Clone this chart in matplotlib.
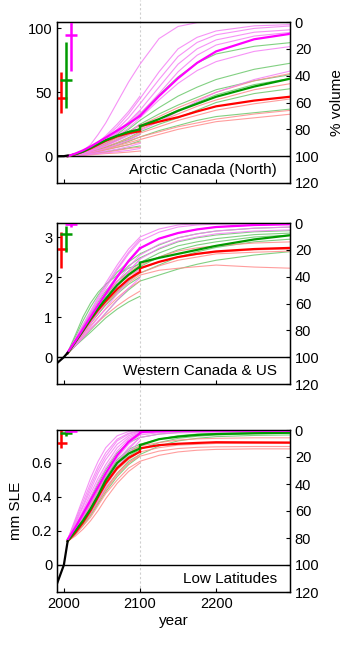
import numpy as np
import matplotlib
matplotlib.use("Agg")
import matplotlib.pyplot as plt
from matplotlib.lines import Line2D
import matplotlib.transforms as mtransforms

plt.rcParams['font.family'] = ['Liberation Sans', 'DejaVu Sans']

# ---------------- data ----------------
YR = [2005, 2015, 2025, 2035, 2045, 2055, 2070, 2085, 2100,
      2125, 2150, 2175, 2200, 2250, 2300]
REGIONS = ["Arctic Canada (North)", "Western Canada & US", "Low Latitudes"]
LEFT_TICKS = [[0, 50, 100], [0, 1, 2, 3], [0, 0.2, 0.4, 0.6]]
LEFT_TICKLABELS = [["0", "50", "100"], ["0", "1", "2", "3"], ["0", "0.2", "0.4", "0.6"]]
YTOP = [105, 3.35, 0.794]
RIGHT_TICKS = [0, 20, 40, 60, 80, 100, 120]
X_TICKS = [2000, 2100, 2200]

# historical (black)
HIST_YR = [1991, 2000, 2005]
HIST = [[0, 0, 0.5], [-0.15, 0, 0.11], [-0.11, 0, 0.14]]

# ensemble means: 21st century (YR[:9]) and extension (YR[8:])
P1_MAG_MEAN = [0, 2, 4.5, 7.5, 11, 14.5, 20, 25.5, 31.5]
P1_MAG_MEANX = [31.5, 47, 61, 73, 82, 91.5, 96]
P1_GRN_MEAN = [0, 1.5, 3.5, 6.5, 9.5, 12.5, 16, 19, 21]
P1_GRN_MEANX = [23.5, 29, 35.5, 41, 46.5, 54.5, 61]
P1_RED_MEAN = [0, 1.5, 3.5, 6, 9, 12, 15.5, 18, 19.5]
P1_RED_MEANX = [23.5, 27, 30.5, 35, 39, 43.5, 46.7]

P2_MAG_MEAN = [0.12, 0.4, 0.7, 1.0, 1.3, 1.58, 2.0, 2.4, 2.72]
P2_MAG_MEANX = [2.72, 2.96, 3.1, 3.19, 3.25, 3.3, 3.32]
P2_GRN_MEAN = [0.1, 0.38, 0.66, 0.95, 1.22, 1.46, 1.8, 2.06, 2.26]
P2_GRN_MEANX = [2.36, 2.48, 2.58, 2.68, 2.78, 2.94, 3.05]
P2_RED_MEAN = [0.1, 0.38, 0.65, 0.93, 1.18, 1.4, 1.7, 1.95, 2.13]
P2_RED_MEANX = [2.22, 2.38, 2.5, 2.58, 2.64, 2.7, 2.73]

P3_MAG_MEAN = [0.15, 0.22, 0.3, 0.38, 0.46, 0.54, 0.645, 0.725, 0.775]
P3_MAG_MEANX = [0.782, 0.787, 0.789, 0.79, 0.79, 0.79, 0.79]
P3_GRN_MEAN = [0.14, 0.2, 0.26, 0.33, 0.41, 0.5, 0.6, 0.655, 0.686]
P3_GRN_MEANX = [0.705, 0.74, 0.755, 0.765, 0.77, 0.775, 0.778]
P3_RED_MEAN = [0.14, 0.19, 0.25, 0.32, 0.4, 0.48, 0.57, 0.63, 0.667]
P3_RED_MEANX = [0.686, 0.705, 0.713, 0.718, 0.722, 0.721, 0.72]

# individual glacier-model runs (9 values: end 2100; 15 values: to 2300)
P1_MAG_RUNS = [
    [0, 1.5, 4, 9, 17, 26, 42, 58, 72, 92, 101.5, 104.5, 105, 105, 105],
    [0, 1.5, 3.5, 6.5, 10.5, 15, 23, 33, 45, 66, 84, 93, 98, 102, 103],
    [0, 1.5, 3.5, 6, 10, 14, 21, 30, 41, 60, 78, 89, 95, 100, 102],
    [0, 1.5, 3, 5.5, 9, 13, 19, 27, 36, 54, 72, 84, 91, 97, 99],
    [0, 1.5, 3, 5.5, 8.5, 12, 18, 25, 33, 49, 66, 79, 87, 94, 97],
    [0, 1, 2.5, 5, 8, 11, 16, 22, 30, 44, 57, 67, 74, 82, 86],
    [0, 1, 2, 4, 6, 8, 12, 16, 20, 27, 35, 43, 50, 60, 67],
    [0, 1.5, 3.5, 6.5, 11, 16, 25, 35, 47],
    [0, 1, 3, 5, 8, 12, 18, 26, 35],
    [0, 1, 2.5, 4, 6.5, 9, 13, 18, 25],
    [0, 1, 2, 3, 4.5, 6, 9, 12.5, 17],
    [0, 0.5, 1, 2, 3, 4, 5.5, 7.5, 10],
    [0, 0.5, 1, 1.5, 2, 2.5, 3.5, 4.5, 6],
]
P1_GRN_RUNS = [
    [0, 1, 2.5, 5, 8, 11.5, 17, 24, 33, 48, 62, 73, 80, 86, 89],
    [0, 1, 2.5, 4.5, 7, 10, 15, 21, 28, 38, 47, 54, 60, 68, 73],
    [0, 1, 2.5, 4.5, 6.5, 9, 13, 19, 25, 33, 40, 46, 52, 59, 64],
    [0, 1, 2, 4, 6, 8.5, 12.5, 17, 22, 29, 36, 42, 48, 56, 61],
    [0, 1, 2, 3.5, 5, 7, 10.5, 14.5, 19, 25, 30, 36, 42, 49, 53],
    [0, 0.5, 1.5, 3, 4.5, 6, 8.5, 11.5, 15, 20, 24, 28, 31, 34, 37],
    [0, 1, 2, 3.5, 5, 7, 10, 13, 17],
    [0, 0.5, 1.5, 2.5, 3.5, 5, 7, 9, 12],
    [0, 0.5, 1, 1.5, 2.5, 3.5, 5, 6.5, 8],
]
P1_RED_RUNS = [
    [0, 1, 2.5, 4.5, 7, 10, 14, 19, 24, 31, 38, 44, 50, 59, 65],
    [0, 1, 2.5, 4, 6, 9, 12.5, 17, 21, 27, 33, 39, 44, 52, 57],
    [0, 1, 2, 3.5, 5.5, 7.5, 10.5, 14, 18, 23, 28, 32, 36, 41, 45],
    [0, 0.5, 1.5, 3, 4.5, 6.5, 9, 12, 15, 19, 23, 26, 29, 33, 36],
    [0, 0.5, 1.5, 2.5, 4, 5.5, 8, 10.5, 13, 17, 21, 24, 27, 30, 33],
    [0, 0.5, 1.5, 2.5, 3.5, 5, 7, 9, 11],
    [0, 0.5, 1, 1.5, 2.5, 3, 4.5, 6, 7],
    [0, 0.3, 0.6, 1, 1.5, 2, 2.5, 3.2, 4],
]

P2_MAG_RUNS = [
    [0.12, 0.45, 0.8, 1.15, 1.5, 1.85, 2.3, 2.7, 3.0, 3.2, 3.3, 3.33, 3.34, 3.35, 3.35],
    [0.12, 0.42, 0.75, 1.08, 1.4, 1.72, 2.18, 2.58, 2.9, 3.12, 3.25, 3.3, 3.32, 3.34, 3.35],
    [0.1, 0.4, 0.7, 1.0, 1.3, 1.6, 2.02, 2.4, 2.72, 2.96, 3.1, 3.19, 3.25, 3.3, 3.32],
    [0.1, 0.35, 0.62, 0.9, 1.18, 1.46, 1.88, 2.25, 2.55, 2.82, 2.98, 3.08, 3.15, 3.22, 3.25],
    [0.1, 0.33, 0.58, 0.84, 1.1, 1.38, 1.78, 2.14, 2.45, 2.72, 2.9, 3.0, 3.08, 3.15, 3.18],
    [0.12, 0.45, 0.8, 1.12, 1.45, 1.78, 2.22, 2.62, 2.95],
    [0.1, 0.4, 0.72, 1.02, 1.32, 1.62, 2.05, 2.42, 2.75],
    [0.1, 0.33, 0.6, 0.86, 1.12, 1.38, 1.78, 2.14, 2.45],
    [0.1, 0.3, 0.52, 0.75, 0.98, 1.22, 1.58, 1.92, 2.22],
    [0.1, 0.28, 0.48, 0.7, 0.9, 1.1, 1.42, 1.72, 1.98],
]
P2_GRN_RUNS = [
    [0.12, 0.5, 0.9, 1.25, 1.55, 1.8, 2.12, 2.38, 2.58, 2.8, 2.98, 3.08, 3.15, 3.22, 3.25],
    [0.1, 0.42, 0.75, 1.08, 1.38, 1.65, 2.0, 2.28, 2.48, 2.7, 2.88, 2.98, 3.05, 3.13, 3.16],
    [0.1, 0.38, 0.68, 0.98, 1.27, 1.54, 1.88, 2.15, 2.36, 2.6, 2.78, 2.88, 2.96, 3.06, 3.1],
    [0.1, 0.35, 0.62, 0.9, 1.18, 1.44, 1.78, 2.05, 2.26, 2.5, 2.68, 2.8, 2.88, 3.0, 3.05],
    [0.1, 0.33, 0.58, 0.84, 1.08, 1.32, 1.64, 1.9, 2.1, 2.3, 2.5, 2.63, 2.74, 2.88, 2.95],
    [0.08, 0.28, 0.48, 0.68, 0.88, 1.1, 1.42, 1.68, 1.9, 2.05, 2.2, 2.32, 2.42, 2.55, 2.64],
    [0.12, 0.55, 1.0, 1.35, 1.62, 1.82, 2.05, 2.22, 2.32],
    [0.1, 0.28, 0.45, 0.62, 0.8, 0.98, 1.2, 1.38, 1.52],
    [0.1, 0.35, 0.6, 0.85, 1.08, 1.3, 1.58, 1.82, 2.0],
]
P2_RED_RUNS = [
    [0.1, 0.4, 0.72, 1.02, 1.3, 1.56, 1.9, 2.12, 2.3, 2.5, 2.65, 2.73, 2.78, 2.85, 2.88],
    [0.1, 0.38, 0.68, 0.96, 1.22, 1.46, 1.78, 2.02, 2.2, 2.38, 2.5, 2.57, 2.62, 2.68, 2.7],
    [0.1, 0.36, 0.64, 0.9, 1.15, 1.38, 1.7, 1.92, 2.1, 2.28, 2.42, 2.5, 2.58, 2.62, 2.65],
    [0.1, 0.34, 0.6, 0.85, 1.1, 1.32, 1.62, 1.86, 2.05, 2.17, 2.22, 2.26, 2.3, 2.25, 2.22],
    [0.1, 0.32, 0.55, 0.78, 1.0, 1.2, 1.48, 1.72, 1.9],
    [0.1, 0.3, 0.5, 0.7, 0.88, 1.05, 1.28, 1.48, 1.65],
]

P3_MAG_RUNS = [
    [0.15, 0.26, 0.37, 0.48, 0.58, 0.66, 0.74, 0.775, 0.79, 0.79, 0.79, 0.79, 0.79, 0.79, 0.79],
    [0.15, 0.24, 0.34, 0.44, 0.54, 0.62, 0.71, 0.76, 0.785, 0.79, 0.79, 0.79, 0.79, 0.79, 0.79],
    [0.15, 0.22, 0.31, 0.4, 0.49, 0.57, 0.67, 0.74, 0.775, 0.783, 0.787, 0.789, 0.79, 0.79, 0.79],
    [0.15, 0.21, 0.28, 0.36, 0.44, 0.52, 0.63, 0.71, 0.765, 0.778, 0.784, 0.786, 0.787, 0.788, 0.788],
    [0.15, 0.2, 0.26, 0.33, 0.4, 0.48, 0.59, 0.68, 0.75, 0.77, 0.777, 0.78, 0.781, 0.782, 0.783],
    [0.15, 0.27, 0.39, 0.51, 0.61, 0.69, 0.76, 0.785, 0.795],
    [0.15, 0.25, 0.35, 0.46, 0.56, 0.64, 0.73, 0.77, 0.787],
    [0.15, 0.23, 0.32, 0.42, 0.51, 0.59, 0.69, 0.75, 0.78],
    [0.15, 0.215, 0.29, 0.37, 0.46, 0.54, 0.65, 0.72, 0.77],
    [0.15, 0.2, 0.26, 0.34, 0.42, 0.5, 0.61, 0.69, 0.75],
    [0.15, 0.19, 0.25, 0.31, 0.38, 0.46, 0.57, 0.66, 0.73],
]
P3_GRN_RUNS = [
    [0.14, 0.22, 0.3, 0.39, 0.48, 0.56, 0.66, 0.72, 0.75, 0.77, 0.78, 0.785, 0.788, 0.79, 0.79],
    [0.14, 0.21, 0.28, 0.36, 0.44, 0.52, 0.62, 0.68, 0.71, 0.74, 0.76, 0.77, 0.775, 0.78, 0.782],
    [0.14, 0.2, 0.26, 0.33, 0.41, 0.49, 0.58, 0.64, 0.68, 0.72, 0.745, 0.757, 0.765, 0.772, 0.775],
    [0.14, 0.19, 0.24, 0.3, 0.37, 0.45, 0.54, 0.61, 0.65, 0.7, 0.73, 0.745, 0.755, 0.762, 0.765],
    [0.14, 0.21, 0.28, 0.36, 0.44, 0.52, 0.61, 0.67, 0.7],
    [0.14, 0.18, 0.23, 0.29, 0.36, 0.43, 0.52, 0.59, 0.64],
]
P3_RED_RUNS = [
    [0.14, 0.2, 0.27, 0.35, 0.43, 0.51, 0.6, 0.66, 0.7, 0.72, 0.735, 0.742, 0.745, 0.748, 0.748],
    [0.14, 0.19, 0.25, 0.32, 0.4, 0.47, 0.56, 0.62, 0.665, 0.69, 0.705, 0.71, 0.715, 0.715, 0.715],
    [0.14, 0.185, 0.24, 0.3, 0.37, 0.44, 0.53, 0.6, 0.64, 0.67, 0.685, 0.692, 0.695, 0.697, 0.697],
    [0.14, 0.18, 0.23, 0.28, 0.35, 0.42, 0.5, 0.57, 0.61, 0.645, 0.665, 0.675, 0.68, 0.683, 0.683],
    [0.14, 0.19, 0.25, 0.31, 0.38, 0.45, 0.54, 0.6, 0.65],
    [0.14, 0.17, 0.21, 0.26, 0.32, 0.39, 0.48, 0.55, 0.6],
]

# published estimates (centre, low, high) at left
EST_YR = [1996, 2003, 2010]
P1_EST = [(45.5, 33.5, 65.5), (60, 37.5, 89), (95, 67, 110)]
P2_EST = [(2.7, 2.22, 3.13), (3.07, 2.63, 3.27), (3.32, 3.24, 3.4)]
P3_EST = [(0.72, 0.686, 0.8), (0.775, 0.76, 0.79), (0.79, 0.785, 0.8)]

# ---------------- styling ----------------
C_BOLD = {"red": "#ff0000", "grn": "#009a00", "mag": "#ff00ff"}
C_THIN = {"red": "#ff8c8c", "grn": "#6cc86c", "mag": "#f57ff5"}

fig = plt.figure(figsize=(3.58, 6.48), dpi=100)
W = 358.0
H = 648.0
panels_px = [(22, 183), (223, 384), (430, 592)]
left, right = 57, 290

runs = [
    (P1_RED_RUNS, P1_GRN_RUNS, P1_MAG_RUNS),
    (P2_RED_RUNS, P2_GRN_RUNS, P2_MAG_RUNS),
    (P3_RED_RUNS, P3_GRN_RUNS, P3_MAG_RUNS),
]
means = [
    ((P1_RED_MEAN, P1_RED_MEANX), (P1_GRN_MEAN, P1_GRN_MEANX), (P1_MAG_MEAN, P1_MAG_MEANX)),
    ((P2_RED_MEAN, P2_RED_MEANX), (P2_GRN_MEAN, P2_GRN_MEANX), (P2_MAG_MEAN, P2_MAG_MEANX)),
    ((P3_RED_MEAN, P3_RED_MEANX), (P3_GRN_MEAN, P3_GRN_MEANX), (P3_MAG_MEAN, P3_MAG_MEANX)),
]
ests = [P1_EST, P2_EST, P3_EST]
keys = ["red", "grn", "mag"]
N21 = 9

axes = []
for i in range(3):
    top, bot = panels_px[i]
    ax = fig.add_axes([left / W, 1 - bot / H, (right - left) / W, (bot - top) / H])
    ax.patch.set_alpha(0)
    axes.append(ax)
    T = YTOP[i]
    ax.set_xlim(1991, 2297)
    ax.set_ylim(-0.2 * T, T)

    # thin runs: green, red, magenta
    for k in [1, 0, 2]:
        for r in runs[i][k]:
            ax.plot(YR[:len(r)], r, color=C_THIN[keys[k]], lw=0.8, alpha=0.85, zorder=2)
    # means
    for k in [0, 1, 2]:
        m21, mx = means[i][k]
        ax.plot(YR[:N21], m21, color=C_BOLD[keys[k]], lw=1.6, zorder=4)
        ax.plot(YR[N21 - 1:], mx, color=C_BOLD[keys[k]], lw=1.6, zorder=4)
        ax.plot([YR[N21 - 1]] * 2, [m21[-1], mx[0]], color=C_BOLD[keys[k]], lw=1.6, zorder=4)
    # historical
    ax.plot(HIST_YR, HIST[i], color="black", lw=1.6, zorder=5)
    # zero line
    ax.axhline(0, color="black", lw=1.0, zorder=3)
    # estimates
    for k in range(3):
        c, lo, hi = ests[i][k]
        ax.errorbar([EST_YR[k]], [c], yerr=[[c - lo], [hi - c]], fmt="none",
                    ecolor=C_BOLD[keys[k]], elinewidth=1.8, capsize=0, zorder=6)
        ax.plot([EST_YR[k]], [c], marker="_", ms=8, mew=1.8,
                color=C_BOLD[keys[k]], zorder=6)

    ax.set_yticks(LEFT_TICKS[i])
    ax.set_yticklabels(LEFT_TICKLABELS[i])
    ax.set_xticks(X_TICKS)
    ax.tick_params(direction="in", length=3, labelsize=10.5, width=0.8)
    if i < 2:
        ax.tick_params(axis="x", labelbottom=False)
    for s in ax.spines.values():
        s.set_linewidth(1.0)
    ax.text(0.945, 0.08, REGIONS[i], transform=ax.transAxes, ha="right",
            va="center", fontsize=11, zorder=7)

    ax2 = ax.twinx()
    ax2.set_ylim(120, 0)
    ax2.set_yticks(RIGHT_TICKS)
    ax2.tick_params(direction="in", length=3, labelsize=10.5, width=0.8)

axes[0].text(1.0 + 47 / 233, 0.5, "% volume", rotation=90, transform=axes[0].transAxes,
             ha="center", va="center", fontsize=11)
axes[2].set_ylabel("mm SLE", fontsize=11, labelpad=6)
axes[2].set_xlabel("year", fontsize=11, labelpad=2)

# dotted vertical line at 2100 across the figure
trans = mtransforms.blended_transform_factory(axes[2].transData, fig.transFigure)
fig.add_artist(Line2D([2100, 2100], [1 - 592 / H, 1.0], transform=trans,
                      color="#cfcfcf", lw=0.8, ls=(0, (2, 2)), zorder=-1))

fig.savefig("out.png", dpi=100)
